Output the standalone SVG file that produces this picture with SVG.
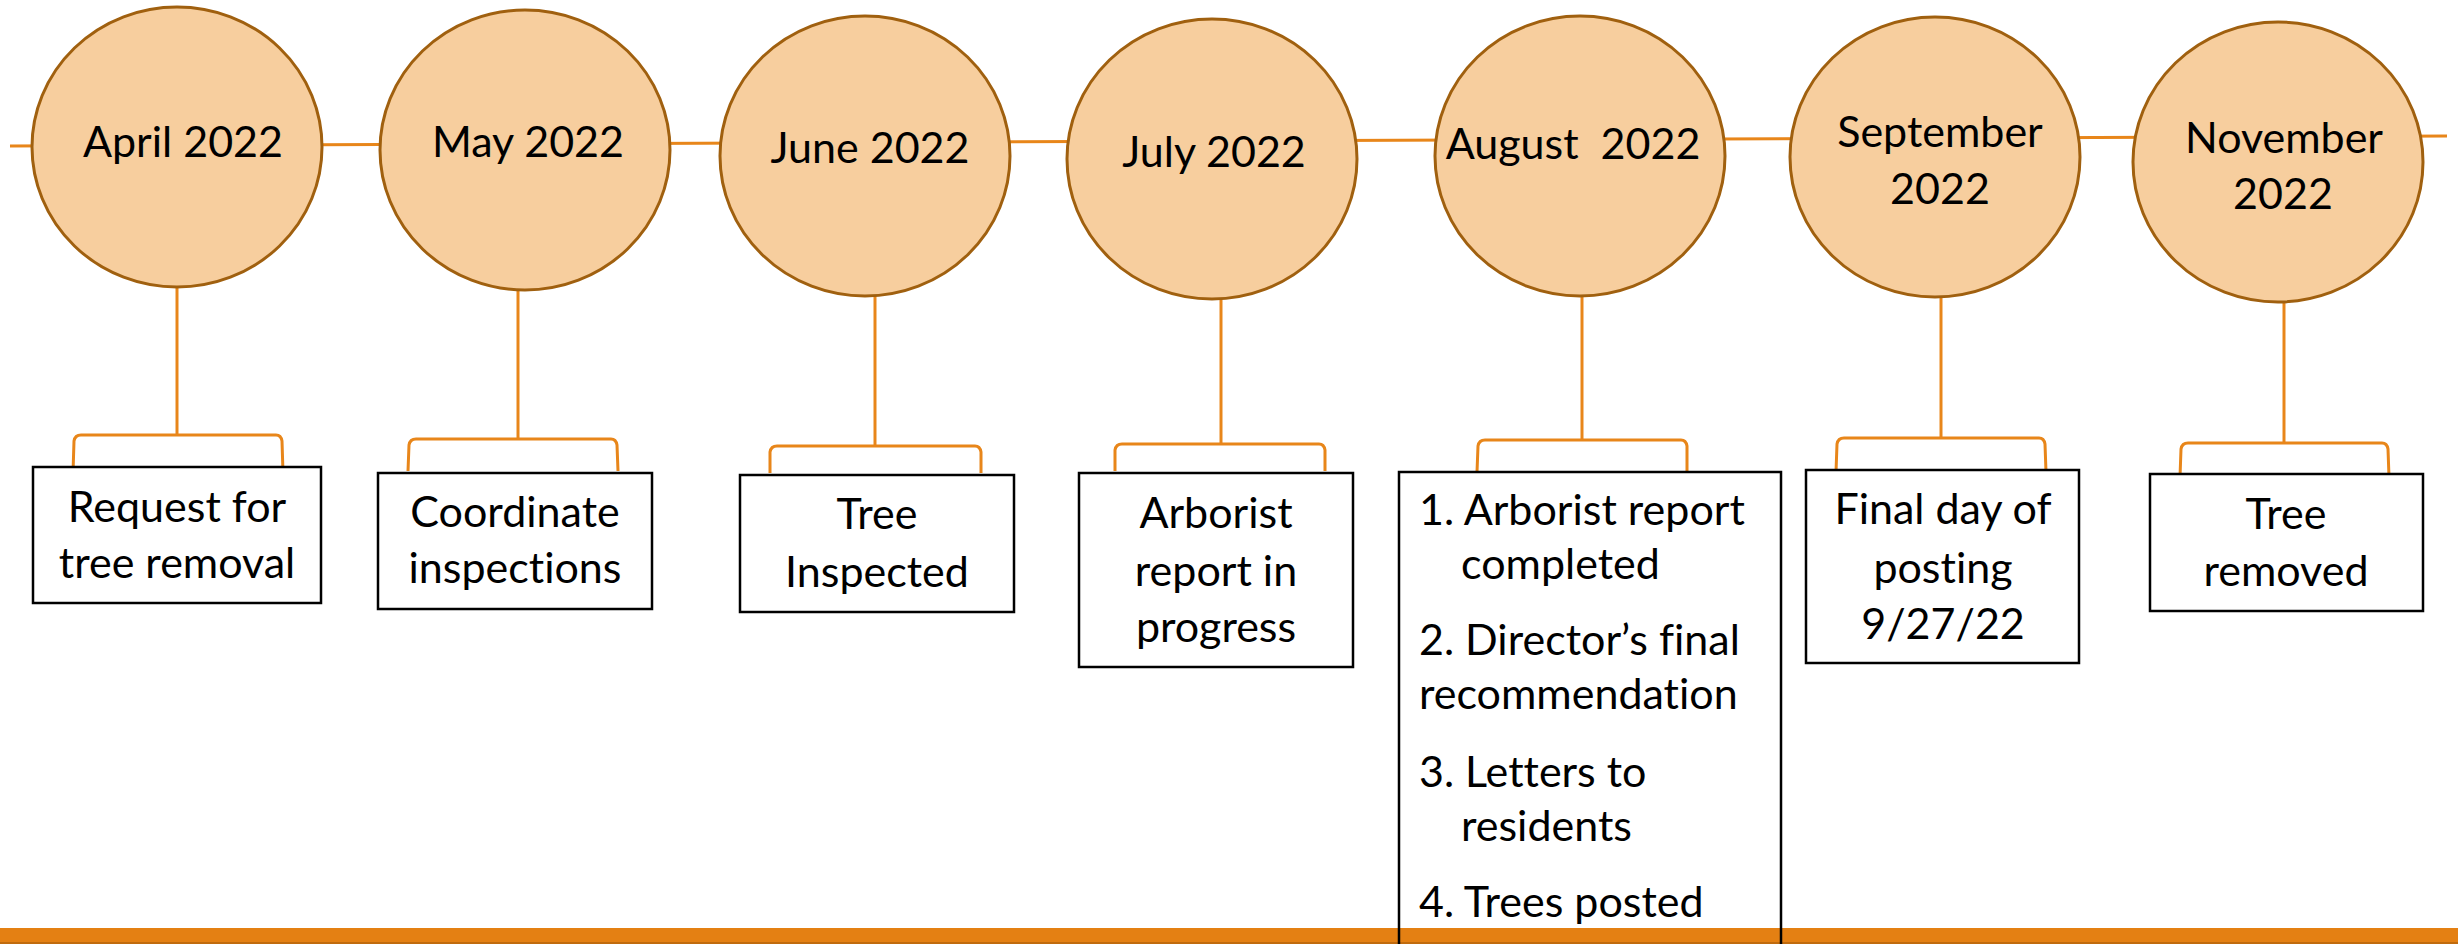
<svg xmlns="http://www.w3.org/2000/svg" width="2458" height="944" viewBox="0 0 2458 944">
<style>
.bg{fill:#ffffff}
.ell{fill:#F7CE9E;stroke:#A0600F;stroke-width:3}
.box{fill:#ffffff;stroke:#000000;stroke-width:2.5}
.con{fill:none;stroke:#E8861A;stroke-width:3;stroke-linejoin:round}
.t{font-family:Lato,"Liberation Sans",sans-serif;font-size:43px;fill:#000000;font-variant-ligatures:none;font-feature-settings:"liga" 0,"clig" 0}
.c{text-anchor:middle}
.bar{fill:#E48013}
</style>
<rect class="bg" x="0" y="0" width="2458" height="944"/>
<g id="connectors">
  <line class="con" x1="10" y1="146" x2="2447" y2="136"/>
  <line class="con" x1="177" y1="287" x2="177" y2="435"/>
  <path class="con" d="M73,473 L74,441 Q75,435 81,435 L276,435 Q281,435 282,441 L283,473"/>
  <line class="con" x1="518" y1="290" x2="518" y2="439"/>
  <path class="con" d="M408,471 L409,445 Q410,439 416,439 L611,439 Q616,439 617,445 L618,471"/>
  <line class="con" x1="875" y1="296" x2="875" y2="446"/>
  <path class="con" d="M770,473 L770,452 Q771,446 777,446 L975,446 Q980,446 981,452 L981,473"/>
  <line class="con" x1="1221" y1="298" x2="1221" y2="444"/>
  <path class="con" d="M1115,471 L1115,450 Q1116,444 1122,444 L1319,444 Q1324,444 1325,450 L1325,471"/>
  <line class="con" x1="1582" y1="296" x2="1582" y2="440"/>
  <path class="con" d="M1477,472 L1478,446 Q1479,440 1485,440 L1681,440 Q1686,440 1687,446 L1687,472"/>
  <line class="con" x1="1941" y1="297" x2="1941" y2="438"/>
  <path class="con" d="M1836,472 L1837,444 Q1838,438 1844,438 L2039,438 Q2044,438 2045,444 L2046,472"/>
  <line class="con" x1="2284" y1="302" x2="2284" y2="443"/>
  <path class="con" d="M2180,477 L2181,449 Q2182,443 2188,443 L2382,443 Q2387,443 2388,449 L2389,477"/>
</g>
<g id="node-april">
  <ellipse class="ell" cx="177" cy="147" rx="145" ry="140"/>
  <text class="t c" x="183" y="157">April 2022</text>
</g>
<g id="node-may">
  <ellipse class="ell" cx="525" cy="150" rx="145" ry="140"/>
  <text class="t c" x="528" y="157">May 2022</text>
</g>
<g id="node-june">
  <ellipse class="ell" cx="865" cy="156" rx="145" ry="140"/>
  <text class="t c" x="870" y="163">June 2022</text>
</g>
<g id="node-july">
  <ellipse class="ell" cx="1212" cy="159" rx="145" ry="140"/>
  <text class="t c" x="1214" y="167">July 2022</text>
</g>
<g id="node-august">
  <ellipse class="ell" cx="1580" cy="156" rx="145" ry="140"/>
  <text class="t c" x="1573" y="159" xml:space="preserve">August  2022</text>
</g>
<g id="node-september">
  <ellipse class="ell" cx="1935" cy="157" rx="145" ry="140"/>
  <text class="t c" x="1940" y="147">September</text>
  <text class="t c" x="1940" y="204">2022</text>
</g>
<g id="node-november">
  <ellipse class="ell" cx="2278" cy="162" rx="145" ry="140"/>
  <text class="t c" x="2284" y="153">November</text>
  <text class="t c" x="2283" y="209">2022</text>
</g>
<g id="box-april">
  <rect class="box" x="33" y="467" width="288" height="136"/>
  <text class="t c" x="177" y="522">Request for</text>
  <text class="t c" x="177" y="578">tree removal</text>
</g>
<g id="box-may">
  <rect class="box" x="378" y="473" width="274" height="136"/>
  <text class="t c" x="515" y="527">Coordinate</text>
  <text class="t c" x="515" y="583">inspections</text>
</g>
<g id="box-june">
  <rect class="box" x="740" y="475" width="274" height="137"/>
  <text class="t c" x="877" y="529">Tree</text>
  <text class="t c" x="877" y="587">Inspected</text>
</g>
<g id="box-july">
  <rect class="box" x="1079" y="473" width="274" height="194"/>
  <text class="t c" x="1216" y="528">Arborist</text>
  <text class="t c" x="1216" y="586">report in</text>
  <text class="t c" x="1216" y="642">progress</text>
</g>
<g id="box-september">
  <rect class="box" x="1806" y="470" width="273" height="193"/>
  <text class="t c" x="1943" y="524">Final day of</text>
  <text class="t c" x="1943" y="583">posting</text>
  <text class="t c" x="1943" y="639">9/27/22</text>
</g>
<g id="box-november">
  <rect class="box" x="2150" y="474" width="273" height="137"/>
  <text class="t c" x="2286" y="529">Tree</text>
  <text class="t c" x="2286" y="586">removed</text>
</g>
<rect class="bar" x="0" y="928" width="2458" height="16"/>
<line x1="0" y1="943" x2="2458" y2="943" stroke="#B5650E" stroke-width="1.5"/>
<g id="box-august">
  <path d="M1399,950 L1399,472 L1781,472 L1781,950" fill="none" stroke="#000000" stroke-width="2.5"/>
  <text class="t" x="1419" y="525">1. Arborist report</text>
  <text class="t" x="1461" y="579">completed</text>
  <text class="t" x="1419" y="655">2. Director’s final</text>
  <text class="t" x="1419" y="709">recommendation</text>
  <text class="t" x="1419" y="787">3. Letters to</text>
  <text class="t" x="1461" y="841">residents</text>
  <text class="t" x="1419" y="917">4. Trees posted</text>
</g>
</svg>
